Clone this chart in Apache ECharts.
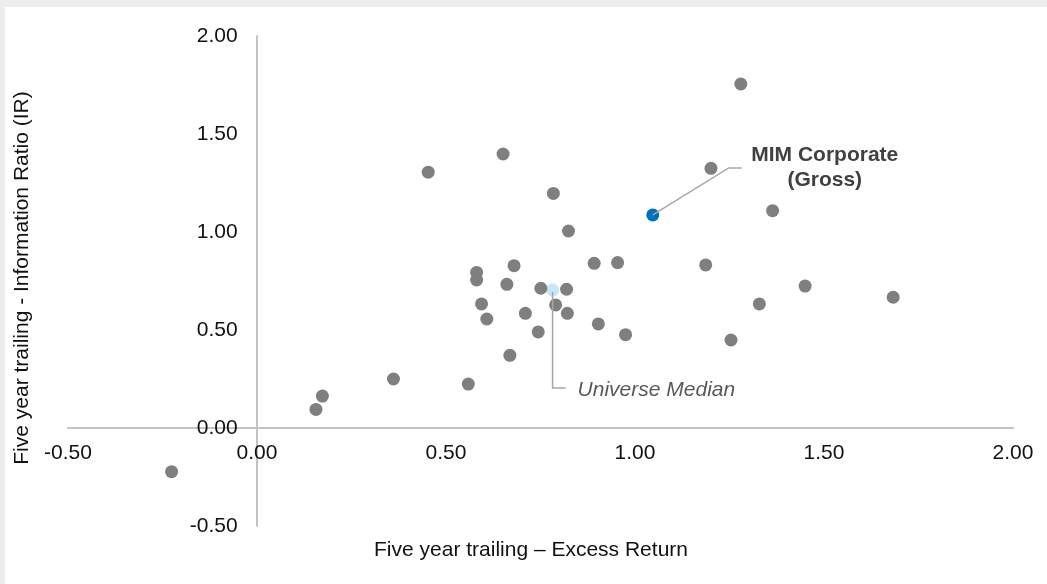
<!DOCTYPE html>
<html>
<head>
<meta charset="utf-8">
<script src="https://cdn.jsdelivr.net/npm/echarts@6/dist/echarts.min.js"></script>
<style>
  html, body { margin: 0; padding: 0; width: 1047px; height: 584px; overflow: hidden; background: #eceeed; }
  #bg { position: absolute; left: 5px; top: 7px; right: 0; bottom: 0; background: #ffffff; }
  #chart { position: absolute; left: 0; top: 0; width: 1047px; height: 584px; }
</style>
</head>
<body>
<div id="bg"></div>
<div id="chart"></div>
<script>
// ---- Data ----
const xTitle = 'Five year trailing – Excess Return';
const yTitle = 'Five year trailing - Information Ratio (IR)';
const axisMin = -0.5;
const axisMax = 2.0;
const axisStep = 0.5;

// Universe managers: [excess return, information ratio]
const universe = [
  [-0.226, -0.223], [0.156, 0.095], [0.173, 0.163], [0.361, 0.250], [0.453, 1.305],
  [0.559, 0.224], [0.581, 0.794], [0.581, 0.755], [0.594, 0.633], [0.608, 0.556],
  [0.651, 1.398], [0.661, 0.733], [0.669, 0.371], [0.680, 0.828], [0.710, 0.585],
  [0.744, 0.490], [0.751, 0.713], [0.784, 1.197], [0.790, 0.628], [0.819, 0.708],
  [0.821, 0.585], [0.824, 1.005], [0.892, 0.840], [0.903, 0.531], [0.954, 0.844],
  [0.975, 0.476], [1.187, 0.832], [1.201, 1.325], [1.254, 0.449], [1.280, 1.755],
  [1.329, 0.633], [1.364, 1.109], [1.450, 0.724], [1.683, 0.667]
];
const mimName = 'MIM Corporate\n(Gross)';
const mimPoint = [1.047, 1.087];
const medianName = 'Universe Median';
const medianPoint = [0.782, 0.704];

// ---- Chart ----
const FONT = '"Liberation Sans", Arial, sans-serif';
const chart = echarts.init(document.getElementById('chart'), null, { renderer: 'canvas' });

function axis(margin, offset) {
  return {
    type: 'value',
    min: axisMin,
    max: axisMax,
    interval: axisStep,
    offset: offset,
    axisLine: { show: true, onZero: false, lineStyle: { color: '#c3c3c3', width: 2 } },
    axisTick: { show: false },
    splitLine: { show: false },
    axisLabel: {
      color: '#111111',
      fontSize: 21,
      fontFamily: FONT,
      margin: margin,
      hideOverlap: false,
      showMinLabel: true,
      showMaxLabel: true,
      formatter: v => v.toFixed(2)
    }
  };
}

const series = [
  {
    type: 'scatter',
    name: medianName,
    data: [medianPoint],
    symbolSize: 13,
    itemStyle: { color: '#c6e7f9', opacity: 1 },
    z: 1
  },
  {
    type: 'scatter',
    name: 'Universe',
    data: universe,
    symbolSize: 13,
    itemStyle: { color: '#7f7f7f', opacity: 1 },
    z: 2
  },
  {
    type: 'scatter',
    name: 'MIM Corporate (Gross)',
    data: [mimPoint],
    symbolSize: 13,
    itemStyle: { color: '#0070c0', opacity: 1 },
    z: 3
  }
];

const grid = { left: 68, right: 34, top: 36, bottom: 58, containLabel: false };

chart.setOption({
  backgroundColor: 'transparent',
  animation: false,
  grid: grid,
  xAxis: axis(15, 0),
  yAxis: axis(19, 0),
  series: series
});

// Move both axes (line + labels) so they cross at zero, as in the reference
const zero = chart.convertToPixel({ gridIndex: 0 }, [0, 0]);
const corner = chart.convertToPixel({ gridIndex: 0 }, [axisMin, axisMin]);
chart.setOption({
  xAxis: axis(15, zero[1] - corner[1]),
  yAxis: axis(19, corner[0] - zero[0])
});

function drawAnnotations() {
  const p = chart.convertToPixel({ gridIndex: 0 }, mimPoint);
  const m = chart.convertToPixel({ gridIndex: 0 }, medianPoint);
  chart.setOption({
    graphic: [
      {
        type: 'text', x: 22, y: 278, rotation: Math.PI / 2,
        style: { text: yTitle, fill: '#111111', font: '21px ' + FONT, textAlign: 'center', textVerticalAlign: 'middle' },
        z: 10
      },
      {
        type: 'text', x: 531, y: 550,
        style: { text: xTitle, fill: '#111111', font: '21px ' + FONT, textAlign: 'center', textVerticalAlign: 'middle' },
        z: 10
      },
      {
        type: 'polyline',
        shape: { points: [[p[0], p[1]], [p[0] + 76, p[1] - 47], [p[0] + 89, p[1] - 47]] },
        style: { stroke: '#a6a6a6', lineWidth: 1.5, fill: null },
        z: 10
      },
      {
        type: 'text', x: p[0] + 172, y: p[1] - 47,
        style: { text: mimName, fill: '#404040', font: 'bold 21px ' + FONT, textAlign: 'center', textVerticalAlign: 'middle', lineHeight: 25 },
        z: 10
      },
      {
        type: 'polyline',
        shape: { points: [[m[0], m[1] + 2], [m[0], m[1] + 98], [m[0] + 13, m[1] + 98]] },
        style: { stroke: '#a6a6a6', lineWidth: 1.5, fill: null },
        z: 10
      },
      {
        type: 'text', x: m[0] + 25, y: m[1] + 100,
        style: { text: medianName, fill: '#595959', font: 'italic 21px ' + FONT, textAlign: 'left', textVerticalAlign: 'middle' },
        z: 10
      }
    ]
  });
}
drawAnnotations();
</script>
</body>
</html>
